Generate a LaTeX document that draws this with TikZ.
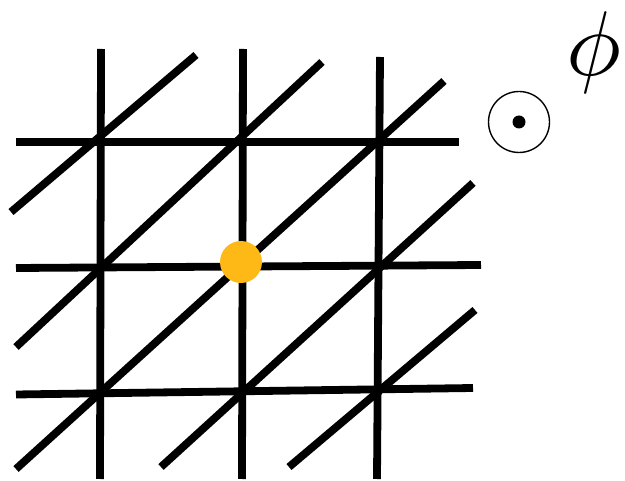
\documentclass[tikz,border=0pt]{standalone}
\begin{document}
\begin{tikzpicture}[x=1pt,y=-1pt,
  gridline/.style={line width=7.8pt,line cap=butt,black},
  symline/.style={line width=1.4pt,black}]
\definecolor{dotyellow}{RGB}{254,185,22}
\useasboundingbox (0,0) rectangle (625,481);
% vertical lines
\draw[gridline] (101,49) -- (100,479);
\draw[gridline] (243,49) -- (242,479);
\draw[gridline] (380,57) -- (377,479);
% horizontal lines
\draw[gridline] (16,142) -- (459,142);
\draw[gridline] (16,268) -- (481,265);
\draw[gridline] (16,394.5) -- (473,388);
% diagonals
\draw[gridline] (11,212) -- (196,55);
\draw[gridline] (16,347) -- (322,62);
\draw[gridline] (16,469) -- (444,81);
\draw[gridline] (161,467) -- (473,183);
\draw[gridline] (289,467) -- (475,310);
% yellow dot
\node[circle,fill=dotyellow,minimum size=42pt,inner sep=0pt] (dot) at (241,262) {};
% out-of-plane symbol
\node[circle,draw,symline,minimum size=61pt,inner sep=0pt] (odot) at (519,122) {};
\fill (odot.center) circle (6.5pt);
% phi label
\node[inner sep=0pt,scale=9.2] (phi) at (594,53) {$\phi$};
\end{tikzpicture}
\end{document}
